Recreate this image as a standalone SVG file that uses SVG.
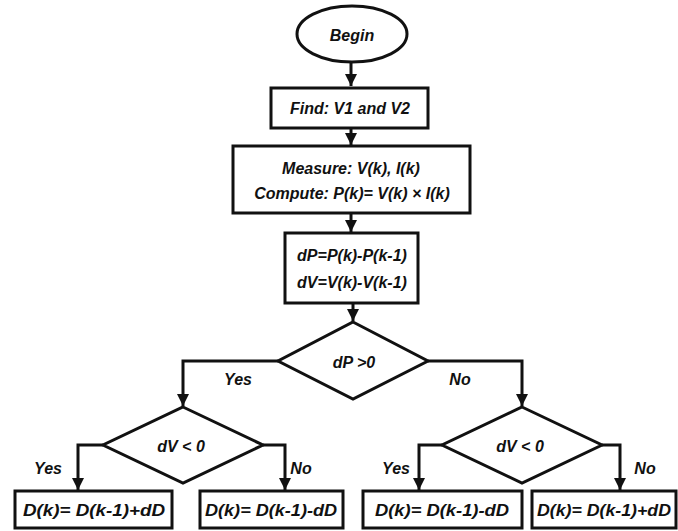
<svg xmlns="http://www.w3.org/2000/svg" width="678" height="531" viewBox="0 0 678 531">
<style>
.s{fill:#fff;stroke:#111;stroke-width:3}
.c{fill:none;stroke:#111;stroke-width:3}
text{font-family:"Liberation Sans",Arial,sans-serif;font-weight:bold;font-style:italic;font-size:16px;fill:#111;text-anchor:middle;dominant-baseline:central}
.b{font-size:17px}
</style>
<defs>
<marker id="ah" markerUnits="userSpaceOnUse" markerWidth="12" markerHeight="12" viewBox="0 0 12 12" refX="12" refY="6" orient="auto">
<path d="M0,0 L12,6 L0,12 Z" fill="#111"/>
</marker>
</defs>
<rect width="678" height="531" fill="#fff"/>
<g id="connectors">
<path class="c" d="M351,63 V86" marker-end="url(#ah)"/>
<path class="c" d="M351,128 V145" marker-end="url(#ah)"/>
<path class="c" d="M351,213 V232" marker-end="url(#ah)"/>
<path class="c" d="M353,303 V321" marker-end="url(#ah)"/>
<path class="c" d="M278,361 H183 V406" marker-end="url(#ah)"/>
<path class="c" d="M428,361 H522 V406" marker-end="url(#ah)"/>
<path class="c" d="M103,445 H78 V490" marker-end="url(#ah)"/>
<path class="c" d="M263,445 H285 V490" marker-end="url(#ah)"/>
<path class="c" d="M442,445 H419 V490" marker-end="url(#ah)"/>
<path class="c" d="M602,445 H620 V490" marker-end="url(#ah)"/>
<text x="238" y="379">Yes</text>
<text x="460" y="379">No</text>
<text x="48" y="468">Yes</text>
<text x="301" y="468">No</text>
<text x="396" y="468">Yes</text>
<text x="645" y="468">No</text>
</g>
<g id="begin"><ellipse class="s" cx="352" cy="34" rx="55" ry="28"/><text x="352" y="35">Begin</text></g>
<g id="find"><rect class="s" x="271" y="88" width="157" height="40"/><text x="350" y="108">Find: V1 and V2</text></g>
<g id="measure"><rect class="s" x="233" y="146" width="237" height="67"/><text x="351" y="168">Measure: V(k), I(k)</text><text x="352" y="193">Compute: P(k)= V(k) × I(k)</text></g>
<g id="diff"><rect class="s" x="285" y="233" width="133" height="70"/><text x="352" y="255">dP=P(k)-P(k-1)</text><text x="352" y="282">dV=V(k)-V(k-1)</text></g>
<g id="dec1"><path class="s" d="M353,322 L428,361 L353,399 L278,361 Z"/><text x="354" y="362">dP &gt;0</text></g>
<g id="dec2"><path class="s" d="M183,407 L263,445 L183,483 L103,445 Z"/><text x="181" y="446">dV &lt; 0</text></g>
<g id="dec3"><path class="s" d="M522,407 L602,445 L522,483 L442,445 Z"/><text x="520" y="446">dV &lt; 0</text></g>
<g id="out1"><rect class="s" x="15" y="491" width="157" height="37"/><text class="b" x="94" y="510" textLength="142" lengthAdjust="spacingAndGlyphs">D(k)= D(k-1)+dD</text></g>
<g id="out2"><rect class="s" x="200" y="491" width="143" height="37"/><text class="b" x="271" y="510" textLength="132" lengthAdjust="spacingAndGlyphs">D(k)= D(k-1)-dD</text></g>
<g id="out3"><rect class="s" x="363" y="491" width="159" height="37"/><text class="b" x="442" y="510" textLength="134" lengthAdjust="spacingAndGlyphs">D(k)= D(k-1)-dD</text></g>
<g id="out4"><rect class="s" x="532" y="491" width="144" height="37"/><text class="b" x="604" y="510" textLength="134" lengthAdjust="spacingAndGlyphs">D(k)= D(k-1)+dD</text></g>
</svg>
